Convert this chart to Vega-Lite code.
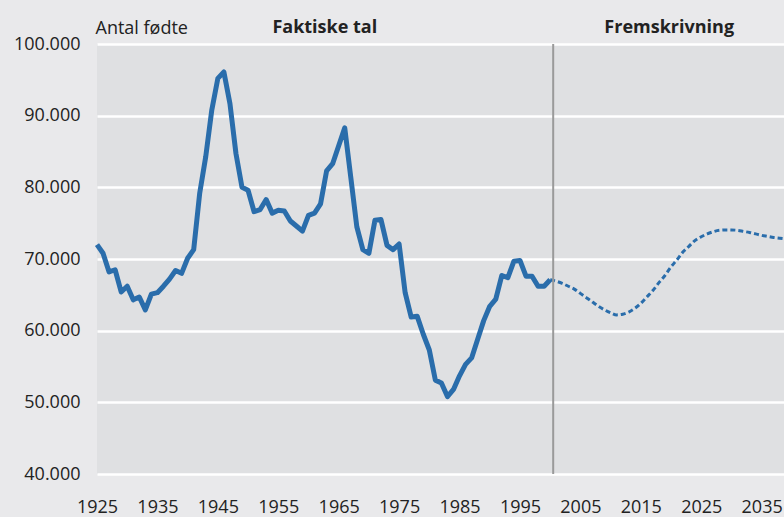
{
  "$schema": "https://vega.github.io/schema/vega-lite/v6.json",
  "autosize": "none",
  "width": 687,
  "height": 430,
  "padding": {"left": 97, "top": 44, "right": 0, "bottom": 43},
  "background": "#e9e9eb",
  "config": {
    "view": {"fill": "#dfe0e2", "stroke": null},
    "font": "Open Sans",
    "axis": {"labelFont": "Open Sans", "labelFontSize": 18, "labelColor": "#222222", "titleFont": "Open Sans", "titleColor": "#222222"}
  },
  "datasets": {
    "births": [
      {"year": 1925, "births": 72000, "series": "Faktiske tal"},
      {"year": 1926, "births": 70800, "series": "Faktiske tal"},
      {"year": 1927, "births": 68200, "series": "Faktiske tal"},
      {"year": 1928, "births": 68500, "series": "Faktiske tal"},
      {"year": 1929, "births": 65400, "series": "Faktiske tal"},
      {"year": 1930, "births": 66200, "series": "Faktiske tal"},
      {"year": 1931, "births": 64300, "series": "Faktiske tal"},
      {"year": 1932, "births": 64700, "series": "Faktiske tal"},
      {"year": 1933, "births": 62900, "series": "Faktiske tal"},
      {"year": 1934, "births": 65100, "series": "Faktiske tal"},
      {"year": 1935, "births": 65300, "series": "Faktiske tal"},
      {"year": 1936, "births": 66200, "series": "Faktiske tal"},
      {"year": 1937, "births": 67200, "series": "Faktiske tal"},
      {"year": 1938, "births": 68400, "series": "Faktiske tal"},
      {"year": 1939, "births": 68000, "series": "Faktiske tal"},
      {"year": 1940, "births": 70100, "series": "Faktiske tal"},
      {"year": 1941, "births": 71300, "series": "Faktiske tal"},
      {"year": 1942, "births": 79200, "series": "Faktiske tal"},
      {"year": 1943, "births": 84300, "series": "Faktiske tal"},
      {"year": 1944, "births": 90800, "series": "Faktiske tal"},
      {"year": 1945, "births": 95200, "series": "Faktiske tal"},
      {"year": 1946, "births": 96100, "series": "Faktiske tal"},
      {"year": 1947, "births": 91700, "series": "Faktiske tal"},
      {"year": 1948, "births": 84700, "series": "Faktiske tal"},
      {"year": 1949, "births": 80000, "series": "Faktiske tal"},
      {"year": 1950, "births": 79600, "series": "Faktiske tal"},
      {"year": 1951, "births": 76600, "series": "Faktiske tal"},
      {"year": 1952, "births": 76900, "series": "Faktiske tal"},
      {"year": 1953, "births": 78300, "series": "Faktiske tal"},
      {"year": 1954, "births": 76400, "series": "Faktiske tal"},
      {"year": 1955, "births": 76800, "series": "Faktiske tal"},
      {"year": 1956, "births": 76700, "series": "Faktiske tal"},
      {"year": 1957, "births": 75300, "series": "Faktiske tal"},
      {"year": 1958, "births": 74600, "series": "Faktiske tal"},
      {"year": 1959, "births": 73900, "series": "Faktiske tal"},
      {"year": 1960, "births": 76100, "series": "Faktiske tal"},
      {"year": 1961, "births": 76400, "series": "Faktiske tal"},
      {"year": 1962, "births": 77700, "series": "Faktiske tal"},
      {"year": 1963, "births": 82300, "series": "Faktiske tal"},
      {"year": 1964, "births": 83300, "series": "Faktiske tal"},
      {"year": 1965, "births": 85800, "series": "Faktiske tal"},
      {"year": 1966, "births": 88300, "series": "Faktiske tal"},
      {"year": 1967, "births": 81400, "series": "Faktiske tal"},
      {"year": 1968, "births": 74500, "series": "Faktiske tal"},
      {"year": 1969, "births": 71300, "series": "Faktiske tal"},
      {"year": 1970, "births": 70800, "series": "Faktiske tal"},
      {"year": 1971, "births": 75400, "series": "Faktiske tal"},
      {"year": 1972, "births": 75500, "series": "Faktiske tal"},
      {"year": 1973, "births": 71900, "series": "Faktiske tal"},
      {"year": 1974, "births": 71300, "series": "Faktiske tal"},
      {"year": 1975, "births": 72100, "series": "Faktiske tal"},
      {"year": 1976, "births": 65300, "series": "Faktiske tal"},
      {"year": 1977, "births": 61900, "series": "Faktiske tal"},
      {"year": 1978, "births": 62000, "series": "Faktiske tal"},
      {"year": 1979, "births": 59500, "series": "Faktiske tal"},
      {"year": 1980, "births": 57300, "series": "Faktiske tal"},
      {"year": 1981, "births": 53100, "series": "Faktiske tal"},
      {"year": 1982, "births": 52700, "series": "Faktiske tal"},
      {"year": 1983, "births": 50800, "series": "Faktiske tal"},
      {"year": 1984, "births": 51800, "series": "Faktiske tal"},
      {"year": 1985, "births": 53700, "series": "Faktiske tal"},
      {"year": 1986, "births": 55300, "series": "Faktiske tal"},
      {"year": 1987, "births": 56200, "series": "Faktiske tal"},
      {"year": 1988, "births": 58800, "series": "Faktiske tal"},
      {"year": 1989, "births": 61400, "series": "Faktiske tal"},
      {"year": 1990, "births": 63400, "series": "Faktiske tal"},
      {"year": 1991, "births": 64400, "series": "Faktiske tal"},
      {"year": 1992, "births": 67700, "series": "Faktiske tal"},
      {"year": 1993, "births": 67400, "series": "Faktiske tal"},
      {"year": 1994, "births": 69700, "series": "Faktiske tal"},
      {"year": 1995, "births": 69800, "series": "Faktiske tal"},
      {"year": 1996, "births": 67600, "series": "Faktiske tal"},
      {"year": 1997, "births": 67600, "series": "Faktiske tal"},
      {"year": 1998, "births": 66200, "series": "Faktiske tal"},
      {"year": 1999, "births": 66200, "series": "Faktiske tal"},
      {"year": 2000, "births": 67100, "series": "Faktiske tal"},
      {"year": 2000, "births": 67100, "series": "Fremskrivning"},
      {"year": 2001, "births": 66900, "series": "Fremskrivning"},
      {"year": 2002, "births": 66600, "series": "Fremskrivning"},
      {"year": 2003, "births": 66200, "series": "Fremskrivning"},
      {"year": 2004, "births": 65800, "series": "Fremskrivning"},
      {"year": 2005, "births": 65200, "series": "Fremskrivning"},
      {"year": 2006, "births": 64600, "series": "Fremskrivning"},
      {"year": 2007, "births": 64000, "series": "Fremskrivning"},
      {"year": 2008, "births": 63400, "series": "Fremskrivning"},
      {"year": 2009, "births": 62900, "series": "Fremskrivning"},
      {"year": 2010, "births": 62500, "series": "Fremskrivning"},
      {"year": 2011, "births": 62200, "series": "Fremskrivning"},
      {"year": 2012, "births": 62300, "series": "Fremskrivning"},
      {"year": 2013, "births": 62600, "series": "Fremskrivning"},
      {"year": 2014, "births": 63100, "series": "Fremskrivning"},
      {"year": 2015, "births": 63800, "series": "Fremskrivning"},
      {"year": 2016, "births": 64700, "series": "Fremskrivning"},
      {"year": 2017, "births": 65600, "series": "Fremskrivning"},
      {"year": 2018, "births": 66700, "series": "Fremskrivning"},
      {"year": 2019, "births": 67700, "series": "Fremskrivning"},
      {"year": 2020, "births": 68900, "series": "Fremskrivning"},
      {"year": 2021, "births": 69900, "series": "Fremskrivning"},
      {"year": 2022, "births": 71000, "series": "Fremskrivning"},
      {"year": 2023, "births": 71800, "series": "Fremskrivning"},
      {"year": 2024, "births": 72600, "series": "Fremskrivning"},
      {"year": 2025, "births": 73100, "series": "Fremskrivning"},
      {"year": 2026, "births": 73500, "series": "Fremskrivning"},
      {"year": 2027, "births": 73800, "series": "Fremskrivning"},
      {"year": 2028, "births": 74000, "series": "Fremskrivning"},
      {"year": 2029, "births": 74050, "series": "Fremskrivning"},
      {"year": 2030, "births": 74050, "series": "Fremskrivning"},
      {"year": 2031, "births": 74000, "series": "Fremskrivning"},
      {"year": 2032, "births": 73850, "series": "Fremskrivning"},
      {"year": 2033, "births": 73700, "series": "Fremskrivning"},
      {"year": 2034, "births": 73500, "series": "Fremskrivning"},
      {"year": 2035, "births": 73300, "series": "Fremskrivning"},
      {"year": 2036, "births": 73150, "series": "Fremskrivning"},
      {"year": 2037, "births": 73000, "series": "Fremskrivning"},
      {"year": 2038, "births": 72900, "series": "Fremskrivning"},
      {"year": 2039, "births": 72800, "series": "Fremskrivning"}
    ],
    "divider": [{"year": 2000.5, "lo": 40000, "hi": 100000}],
    "headers": [
      {"year": 1962.7, "births": 102250, "label": "Faktiske tal"},
      {"year": 2019.7, "births": 102250, "label": "Fremskrivning"}
    ]
  },
  "encoding": {
    "x": {
      "field": "year", "type": "quantitative",
      "scale": {"domain": [1925, 2038.7], "nice": false, "zero": false},
      "axis": {
        "title": null, "values": [1925, 1935, 1945, 1955, 1965, 1975, 1985, 1995, 2005, 2015, 2025, 2035],
        "format": "d", "grid": false, "domain": false, "ticks": false, "labelPadding": 24, "labelFlush": false
      }
    }
  },
  "layer": [
    {
      "data": {"name": "births"},
      "transform": [{"filter": "datum.series == 'Faktiske tal'"}],
      "mark": {"type": "line", "color": "#2a6dab", "strokeWidth": 5, "strokeJoin": "round"},
      "encoding": {
        "y": {
          "field": "births", "type": "quantitative",
          "scale": {"domain": [40000, 100000], "nice": false, "zero": false},
          "axis": {
            "title": "Antal fødte", "titleAngle": 0, "titleAlign": "left", "titleBaseline": "middle",
            "titleX": -2, "titleY": -16, "titleFontSize": 18, "titleFontWeight": "normal",
            "values": [40000, 50000, 60000, 70000, 80000, 90000, 100000],
            "labelExpr": "replace(format(datum.value, ','), ',', '.')",
            "grid": true, "gridColor": "#ffffff", "gridWidth": 2.5, "gridOpacity": 1,
            "domain": false, "ticks": false, "labelPadding": 17
          }
        }
      }
    },
    {
      "data": {"name": "births"},
      "transform": [{"filter": "datum.series == 'Fremskrivning'"}],
      "mark": {"type": "line", "color": "#2a6dab", "strokeWidth": 3, "strokeDash": [5, 3], "interpolate": "monotone"},
      "encoding": {"y": {"field": "births", "type": "quantitative"}}
    },
    {
      "data": {"name": "divider"},
      "mark": {"type": "rule", "color": "#9a9a9a", "strokeWidth": 2},
      "encoding": {"y": {"field": "lo", "type": "quantitative"}, "y2": {"field": "hi"}}
    },
    {
      "data": {"name": "headers"},
      "mark": {"type": "text", "font": "Open Sans", "fontSize": 18, "fontWeight": "bold", "color": "#222222", "align": "center", "baseline": "middle", "clip": false},
      "encoding": {"y": {"field": "births", "type": "quantitative"}, "text": {"field": "label"}}
    }
  ]
}
